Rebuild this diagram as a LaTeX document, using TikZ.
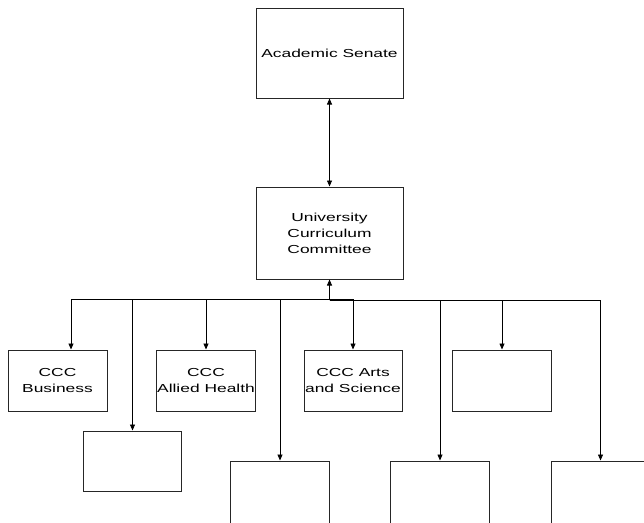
\documentclass[tikz,border=0pt]{standalone}
\usepackage{fontspec}
\setmainfont[FakeStretch=1.5]{Liberation Sans}
\usetikzlibrary{arrows.meta}
\begin{document}
\begin{tikzpicture}[x=1pt,y=-1pt,
  box/.style={draw=black!85, line width=1pt, fill=white, inner sep=0pt, align=center,
    font=\fontsize{11.6}{16}\selectfont},
  conn/.style={draw=black, line width=0.8pt},
  arr/.style={conn, -{Triangle[width=5pt,length=6pt]}},
  dbl/.style={conn, {Triangle[width=5pt,length=6pt]}-{Triangle[width=5pt,length=6pt]}}]
\useasboundingbox (0,0) rectangle (644,522);
\clip (0,0) rectangle (644,522);
\fill[white] (0,0) rectangle (644,522);
% top boxes
\node[box, minimum width=147pt, minimum height=90pt] (as) at (329.5,53) {Academic Senate};
\node[box, minimum width=147pt, minimum height=92pt] (ucc) at (329.5,233) {University\\Curriculum\\Committee};
% first row
\node[box, minimum width=99pt, minimum height=61pt] (b1) at (57.5,380.5) {CCC\\Business};
\node[box, minimum width=99pt, minimum height=61pt] (b2) at (206,380.5) {CCC\\Allied Health};
\node[box, minimum width=98pt, minimum height=61pt] (b3) at (353,380.5) {CCC Arts\\and Science};
\node[box, minimum width=98.5pt, minimum height=61pt] (b4) at (502,380.5) {};
% second row
\node[box, minimum width=98.5pt, minimum height=60pt] (l1) at (132.5,461) {};
\node[box, minimum width=98.5pt, minimum height=62pt] (l2) at (280,492) {};
\node[box, minimum width=98.5pt, minimum height=62pt] (l3) at (440,492) {};
\node[box, minimum width=98.5pt, minimum height=62pt] (l4) at (600.5,492) {};
% connectors
\draw[dbl] (as.south) -- (ucc.north);
\coordinate (hubR) at (329.5,300);
\coordinate (hubL) at (353,299);
\draw[arr] (hubR) -- (ucc.south);
\draw[arr] (hubR) -| (b4.north);
\draw[arr] (hubR) -| (l3.north);
\draw[arr] (hubR) -| (l4.north);
\draw[arr] (hubL) -- (b3.north);
\draw[arr] (hubL) -| ([xshift=13.5pt]b1.north);
\draw[arr] (hubL) -| (l1.north);
\draw[arr] (hubL) -| (b2.north);
\draw[arr] (hubL) -| (l2.north);
\end{tikzpicture}
\end{document}
